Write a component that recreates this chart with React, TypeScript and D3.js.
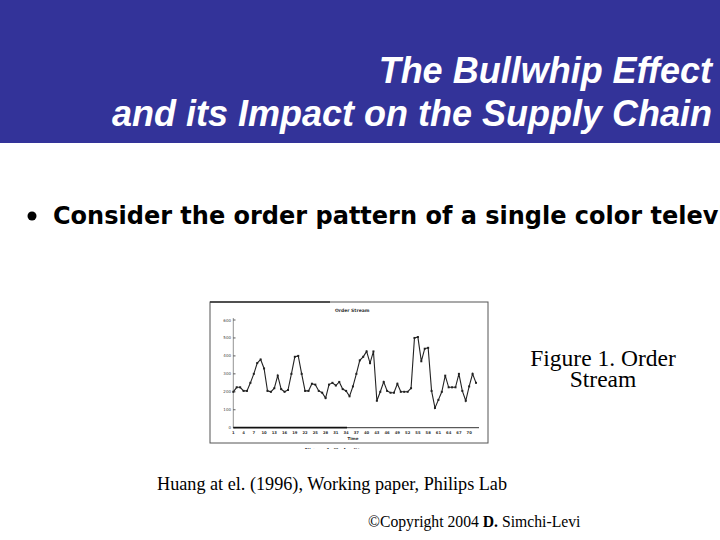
import React from "react";
import * as d3 from "d3";

const weeks: number[] = Array.from({ length: 72 }, (_, i) => i + 1);
const orders: number[] = [
  200, 225, 225, 205, 205, 250, 300, 360, 380, 330,
  205, 200, 220, 290, 215, 200, 210, 300, 395, 400,
  300, 205, 205, 245, 240, 205, 195, 165, 240, 250,
  235, 255, 215, 205, 175, 230, 300, 375, 395, 425,
  360, 425, 150, 200, 255, 205, 195, 195, 245, 200,
  200, 200, 220, 500, 505, 370, 440, 445, 205, 110,
  155, 200, 290, 225, 225, 225, 300, 205, 150, 230,
  300, 250,
];
const yTicks: number[] = [0, 100, 200, 300, 400, 500, 600];
const xTicks: number[] = [1, 4, 7, 10, 13, 16, 19, 22, 25, 28, 31, 34, 37, 40, 43, 46, 49, 52, 55, 58, 61, 64, 67, 70];

const titleLines = ["The Bullwhip Effect", "and its Impact on the Supply Chain"];
const bulletText = "Consider the order pattern of a single color television model";

export default function App() {
  const x = d3.scaleLinear().domain([1, 72]).range([233.3, 476]);
  const y = d3.scaleLinear().domain([0, 600]).range([427.7, 320]);
  const line = d3
    .line<number>()
    .x((_, i) => x(weeks[i]))
    .y((d) => y(d));

  return (
    <svg
      width={720}
      height={540}
      style={{ position: "absolute", left: 0, top: 0, background: "#fff" }}
    >
      <defs>
        <clipPath id="slide">
          <rect x={0} y={0} width={720} height={540} />
        </clipPath>
        <clipPath id="img">
          <rect x={206} y={298} width={290} height={151} />
        </clipPath>
      </defs>
      <rect x={0} y={0} width={720} height={540} fill="#fff" />
      <rect x={0} y={0} width={720} height={143} fill="#333399" />
      <g
        fontFamily="'Liberation Sans', Arial, sans-serif"
        fontWeight="bold"
        fontStyle="italic"
        fontSize={36}
        fill="#fff"
        textAnchor="end"
      >
        <text x={712} y={83}>{titleLines[0]}</text>
        <text x={712} y={126}>{titleLines[1]}</text>
      </g>

      <g clipPath="url(#slide)">
        <circle cx={32} cy={216} r={4.5} fill="#000" />
        <text
          x={53}
          y={224}
          fontFamily="'DejaVu Sans', Verdana, sans-serif"
          fontWeight="bold"
          fontSize={24}
          fill="#000"
        >
          {bulletText}
        </text>
      </g>

      {/* embedded figure */}
      <g clipPath="url(#img)">
        <rect x={210} y={302} width={278} height={141} fill="#fff" stroke="#555" strokeWidth={1} />
        <line x1={210} y1={302} x2={330} y2={302} stroke="#333" strokeWidth={1.5} />
        <text x={335} y={312} fontFamily="'DejaVu Sans', sans-serif" fontSize={4.5} fontWeight="bold" fill="#333">
          Order Stream
        </text>
        <line x1={233.3} y1={318} x2={233.3} y2={428} stroke="#777" strokeWidth={0.8} />
        {yTicks.map((t) => (
          <g key={t}>
            <line x1={233.3} x2={235.5} y1={y(t)} y2={y(t)} stroke="#333" strokeWidth={0.8} />
            <text
              x={231}
              y={y(t) + 1.5}
              fontFamily="'DejaVu Sans', sans-serif"
              fontSize={4}
              textAnchor="end"
              fill="#444"
            >
              {t}
            </text>
          </g>
        ))}
        <line x1={233.3} y1={y(0)} x2={347} y2={y(0)} stroke="#111" strokeWidth={1.8} />
        <line x1={347} y1={y(0)} x2={479} y2={y(0)} stroke="#333" strokeWidth={1} />
        {xTicks.map((t) => (
          <text
            key={t}
            x={x(t)}
            y={y(0) + 6}
            fontFamily="'DejaVu Sans', sans-serif"
            fontSize={3.8}
            fontWeight="bold"
            textAnchor="middle"
            fill="#333"
          >
            {t}
          </text>
        ))}
        <text x={353} y={440} fontFamily="'DejaVu Sans', sans-serif" fontSize={4} fontWeight="bold" textAnchor="middle" fill="#333">
          Time
        </text>
        <path d={line(orders) ?? ""} fill="none" stroke="#222" strokeWidth={1.1} />
        {orders.map((v, i) => (
          <rect
            key={i}
            x={x(weeks[i]) - 1}
            y={y(v) - 1}
            width={2}
            height={2}
            fill="#222"
          />
        ))}
        <text x={340} y={452} fontFamily="'Liberation Serif', serif" fontSize={7} fontWeight="bold" textAnchor="middle" fill="#222">
          Figure 1. Order Stream
        </text>
      </g>

      <g fontFamily="'Liberation Serif', 'Times New Roman', serif" fill="#000">
        <text x={603} y={366} fontSize={23.5} textAnchor="middle">Figure 1. Order</text>
        <text x={603} y={387} fontSize={23.5} textAnchor="middle">Stream</text>
        <text x={157} y={490} fontSize={18.2}>Huang at el. (1996), Working paper, Philips Lab</text>
        <text x={368} y={527} fontSize={15.7}>
          ©Copyright 2004 <tspan fontWeight="bold">D.</tspan> Simchi-Levi
        </text>
      </g>
    </svg>
  );
}
